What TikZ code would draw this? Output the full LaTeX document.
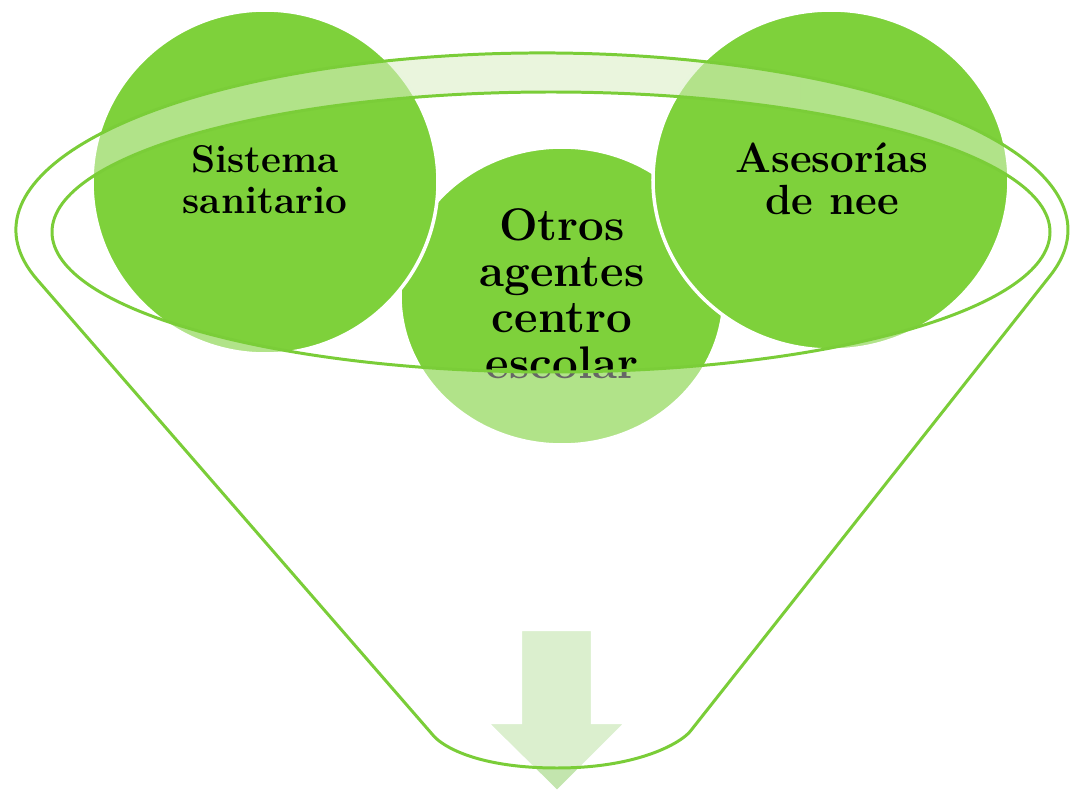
\documentclass[tikz,border=0pt]{standalone}
\usepackage{fontspec}
\definecolor{leaf}{RGB}{126,209,59}
\definecolor{leafline}{RGB}{122,205,56}
\definecolor{arrowfill}{RGB}{195,229,174}
\definecolor{rimtint}{RGB}{184,224,143}
\tikzset{%
  bubble/.style = { fill=leaf, draw=white, line width=1pt },
  rim/.style = { draw=leafline, line width=0.85pt },
  veil/.style = { fill=white, fill opacity=0.4, even odd rule },
  label/.style = { align=center, inner sep=0pt, text=black },
  leftlabel/.style = { label, font=\fontsize{11}{11.6}\selectfont\bfseries },
  rightlabel/.style = { label, font=\fontsize{12}{11.8}\selectfont\bfseries },
  midlabel/.style = { label, font=\fontsize{13}{13.1}\selectfont\bfseries }
}

\begin{document}
\begin{tikzpicture}[x=0.01cm,y=-0.01cm]

  \useasboundingbox (0,0) rectangle (1072,791);

  % Arrow below the funnel
  \draw[fill=arrowfill,draw=white,line width=0.6pt] (521,630) -- (592,630) -- (592,723) -- (625,723)
    -- (557,791) -- (488,723) -- (521,723) -- cycle;

  % Circles
  \draw[bubble] (562,296) ellipse[x radius=162, y radius=149];
  \draw[bubble] (265,182) ellipse[x radius=173, y radius=172];
  \draw[bubble] (831,180) ellipse[x radius=178, y radius=170];

  \node[midlabel]   (otros)    at (562,294) {Otros\\agentes\\centro\\escolar};
  \node[leftlabel]  (sanidad)  at (265,180) {Sistema\\sanitario};
  \node[rightlabel] (asesoria) at (832,179) {Asesorías\\de nee};

  % Funnel body
  \fill[veil] (37.3,279.8) arc[start angle=163.65, end angle=374.9, x radius=526, y radius=177]
    -- (690.5,731) .. controls (682,742) and (640,768) .. (557,768)
    .. controls (475,768) and (440,745) .. (432,734) -- cycle
    (551,232) ellipse[x radius=499, y radius=140];

  % Back rim
  \begin{scope}
    \clip (300,0) rectangle (800,200);
    \fill[rimtint, fill opacity=0.3, even odd rule] (542,230) ellipse[x radius=526, y radius=177]
      (551,232) ellipse[x radius=499, y radius=140];
  \end{scope}

  % Outlines
  \draw[rim] (37.3,279.8) arc[start angle=163.65, end angle=374.9, x radius=526, y radius=177]
    -- (690.5,731) .. controls (682,742) and (640,768) .. (557,768)
    .. controls (475,768) and (440,745) .. (432,734) -- cycle;
  \draw[rim] (551,232) ellipse[x radius=499, y radius=140];

\end{tikzpicture}
\end{document}
